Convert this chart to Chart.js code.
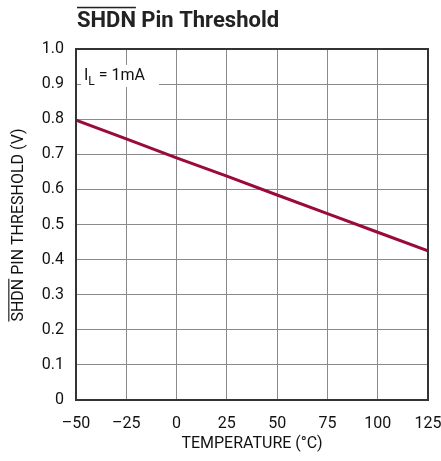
<!DOCTYPE html>
<html>
<head>
<meta charset="utf-8">
<script src="https://cdn.jsdelivr.net/npm/chart.js@4"></script>
<style>
  html, body { margin: 0; padding: 0; background: #fff; }
  #wrap { width: 441px; height: 461px; position: relative; }
</style>
</head>
<body>
<div id="wrap"><canvas id="chart"></canvas></div>
<script>
// --- data ---
const temperatures = [-50, -25, 0, 25, 50, 75, 100, 125];
const thresholdV = [0.797, 0.744, 0.690, 0.638, 0.584, 0.531, 0.478, 0.425];
const xTicks = [-50, -25, 0, 25, 50, 75, 100, 125];
const yTicks = [0, 0.1, 0.2, 0.3, 0.4, 0.5, 0.6, 0.7, 0.8, 0.9, 1.0];

const fontFamily = "'Liberation Sans Narrow', 'Roboto', sans-serif";
const lineColor = '#9a0a3a';
const gridColor = '#8a8a8a';
const frameColor = '#333';

// draw text with an overline over the first `n` chars
function overlineText(ctx, text, n, x, y, size) {
  ctx.fillText(text, x, y);
  const w = ctx.measureText(text.slice(0, n)).width;
  ctx.fillRect(x, y - size * 0.92, w, Math.max(1, size * 0.07));
}

const decorations = {
  id: 'decorations',
  beforeDatasetsDraw(chart) {
    const ctx = chart.ctx;
    const a = chart.chartArea;
    // label box over the grid
    ctx.save();
    ctx.fillStyle = '#fff';
    ctx.fillRect(a.left + 5, a.top + 16, 78, 22);
    ctx.fillStyle = '#111';
    ctx.font = '16px ' + fontFamily;
    ctx.textBaseline = 'alphabetic';
    let x = a.left + 8;
    ctx.fillText('I', x, a.top + 31);
    x += ctx.measureText('I').width;
    ctx.font = '12px ' + fontFamily;
    ctx.fillText('L', x, a.top + 36);
    x += ctx.measureText('L').width;
    ctx.font = '16px ' + fontFamily;
    ctx.fillText(' = 1mA', x, a.top + 31);
    ctx.restore();
  },
  afterDraw(chart) {
    const ctx = chart.ctx;
    const a = chart.chartArea;
    ctx.save();
    // frame
    ctx.strokeStyle = frameColor;
    ctx.lineWidth = 2;
    ctx.strokeRect(a.left, a.top, a.right - a.left, a.bottom - a.top);
    // title
    ctx.fillStyle = '#222';
    ctx.font = 'bold 22px ' + fontFamily;
    ctx.textAlign = 'left';
    ctx.textBaseline = 'alphabetic';
    overlineText(ctx, 'SHDN Pin Threshold', 4, 77, 27, 22);
    // y axis title
    ctx.font = '16px ' + fontFamily;
    ctx.fillStyle = '#111';
    ctx.translate(23, 225);
    ctx.rotate(-Math.PI / 2);
    const t = 'SHDN PIN THRESHOLD (V)';
    const tw = ctx.measureText(t).width;
    overlineText(ctx, t, 4, -tw / 2, 0, 16);
    ctx.restore();
  }
};

new Chart(document.getElementById('chart'), {
  type: 'line',
  data: {
    labels: temperatures,
    datasets: [{
      data: temperatures.map((t, i) => ({ x: t, y: thresholdV[i] })),
      borderColor: lineColor,
      borderWidth: 3,
      pointRadius: 0,
      fill: false,
      tension: 0
    }]
  },
  options: {
    responsive: true,
    maintainAspectRatio: false,
    animation: false,
    layout: { padding: { top: 49, right: 13, left: 0, bottom: 0 } },
    plugins: {
      legend: { display: false },
      tooltip: { enabled: false }
    },
    scales: {
      x: {
        type: 'linear',
        min: -50,
        max: 125,
        afterBuildTicks: (axis) => { axis.ticks = xTicks.map(v => ({ value: v })); },
        afterFit: (axis) => {
          axis.height = 61;
          axis.paddingLeft = 0;
          axis.paddingRight = 0;
        },
        grid: { color: gridColor, lineWidth: 1, drawTicks: false },
        border: { display: false },
        ticks: {
          color: '#111',
          padding: 14,
          maxRotation: 0,
          font: { family: fontFamily, size: 16 },
          callback: (v) => v < 0 ? '\u2013' + Math.abs(v) : String(v)
        },
        title: {
          display: true,
          text: 'TEMPERATURE (\u00b0C)',
          color: '#111',
          padding: { top: 0, bottom: 7 },
          font: { family: fontFamily, size: 16 }
        }
      },
      y: {
        min: 0,
        max: 1.0,
        afterBuildTicks: (axis) => { axis.ticks = yTicks.map(v => ({ value: v })); },
        afterFit: (axis) => {
          axis.width = 76;
          axis.paddingTop = 0;
          axis.paddingBottom = 0;
        },
        grid: { color: gridColor, lineWidth: 1, drawTicks: false },
        border: { display: false },
        ticks: {
          color: '#111',
          padding: 12,
          font: { family: fontFamily, size: 16 },
          callback: (v) => v === 0 ? '0' : v.toFixed(1)
        }
      }
    }
  },
  plugins: [decorations]
});
</script>
</body>
</html>
